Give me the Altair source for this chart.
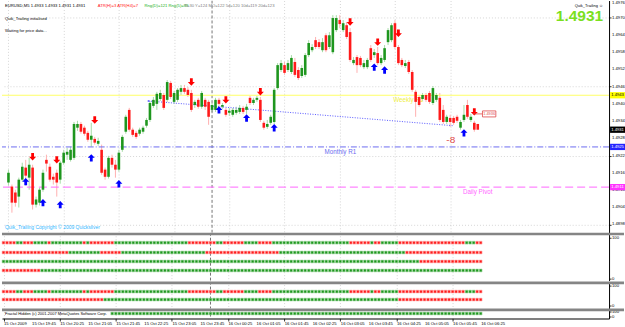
import altair as alt
import pandas as pd

# ---------------- data ----------------
BARS = list(range(137))  # M5 bars, 15 Oct 19:05 .. 16 Oct 06:25

OPEN = [1.49126, 1.49112, 1.49091, 1.49077, 1.49136, 1.49178, 1.49143, 1.49178, 1.49049, 1.49056,
        1.49101, 1.49205, 1.49181, 1.49146, 1.49160, 1.49136, 1.49195, 1.49223, 1.49205, 1.49212,
        1.49317, 1.49330, 1.49317, 1.49299, 1.49275, 1.49278, 1.49261, 1.49240, 1.49171, 1.49146,
        1.49212, 1.49188, 1.49171, 1.49240, 1.49303, 1.49379, 1.49310, 1.49299, 1.49296, 1.49303,
        1.49324, 1.49344, 1.49393, 1.49400, 1.49417, 1.49431, 1.49414, 1.49473, 1.49407, 1.49414,
        1.49442, 1.49455, 1.49449, 1.49438, 1.49396, 1.49414, 1.49390, 1.49414, 1.49407, 1.49379,
        1.49379, 1.49414, 1.49390, 1.49379, 1.49369, 1.49362, 1.49369, 1.49372, 1.49386, 1.49379,
        1.49421, 1.49403, 1.49414, 1.49414, 1.49334, 1.49320, 1.49334, 1.49337, 1.49455, 1.49518,
        1.49535, 1.49518, 1.49511, 1.49546, 1.49518, 1.49497, 1.49501, 1.49570, 1.49587, 1.49622,
        1.49615, 1.49587, 1.49639, 1.49598, 1.49580, 1.49657, 1.49692, 1.49657, 1.49674, 1.49650,
        1.49542, 1.49563, 1.49560, 1.49528, 1.49528, 1.49594, 1.49570, 1.49577, 1.49542, 1.49553,
        1.49615, 1.49622, 1.49681, 1.49598, 1.49553, 1.49532, 1.49546, 1.49511, 1.49442, 1.49424,
        1.49417, 1.49431, 1.49438, 1.49403, 1.49414, 1.49421, 1.49379, 1.49337, 1.49351, 1.49351,
        1.49355, 1.49317, 1.49344, 1.49396, 1.49344, 1.49334, 1.49330]
HIGH = [1.49171, 1.49119, 1.49101, 1.49143, 1.49195, 1.49205, 1.49212, 1.49188, 1.49077, 1.49108,
        1.49171, 1.49223, 1.49192, 1.49157, 1.49171, 1.49202, 1.49240, 1.49247, 1.49251, 1.49337,
        1.49341, 1.49337, 1.49324, 1.49306, 1.49334, 1.49285, 1.49282, 1.49258, 1.49178, 1.49219,
        1.49223, 1.49205, 1.49240, 1.49292, 1.49362, 1.49386, 1.49317, 1.49306, 1.49317, 1.49324,
        1.49351, 1.49410, 1.49424, 1.49442, 1.49449, 1.49438, 1.49483, 1.49480, 1.49445, 1.49455,
        1.49466, 1.49466, 1.49459, 1.49449, 1.49414, 1.49421, 1.49445, 1.49421, 1.49414, 1.49403,
        1.49421, 1.49421, 1.49403, 1.49386, 1.49386, 1.49386, 1.49390, 1.49396, 1.49393, 1.49400,
        1.49428, 1.49421, 1.49428, 1.49424, 1.49341, 1.49344, 1.49362, 1.49455, 1.49542, 1.49553,
        1.49546, 1.49553, 1.49570, 1.49560, 1.49528, 1.49535, 1.49577, 1.49622, 1.49608, 1.49633,
        1.49626, 1.49629, 1.49646, 1.49650, 1.49709, 1.49709, 1.49709, 1.49692, 1.49685, 1.49664,
        1.49563, 1.49570, 1.49567, 1.49553, 1.49560, 1.49605, 1.49591, 1.49598, 1.49570, 1.49605,
        1.49664, 1.49681, 1.49692, 1.49605, 1.49560, 1.49553, 1.49553, 1.49518, 1.49449, 1.49431,
        1.49438, 1.49438, 1.49445, 1.49462, 1.49438, 1.49438, 1.49396, 1.49362, 1.49362, 1.49358,
        1.49362, 1.49344, 1.49396, 1.49414, 1.49365, 1.49341, 1.49330]
LOW = [1.49115, 1.49021, 1.49042, 1.49039, 1.49129, 1.49115, 1.49101, 1.49032, 1.49039, 1.49046,
       1.49094, 1.49164, 1.49129, 1.49119, 1.49077, 1.49122, 1.49188, 1.49205, 1.49199, 1.49205,
       1.49306, 1.49296, 1.49289, 1.49268, 1.49251, 1.49258, 1.49254, 1.49153, 1.49136, 1.49140,
       1.49178, 1.49143, 1.49164, 1.49233, 1.49296, 1.49303, 1.49285, 1.49278, 1.49289, 1.49296,
       1.49317, 1.49337, 1.49386, 1.49379, 1.49410, 1.49379, 1.49407, 1.49417, 1.49400, 1.49407,
       1.49431, 1.49435, 1.49424, 1.49372, 1.49386, 1.49383, 1.49383, 1.49379, 1.49327, 1.49372,
       1.49372, 1.49393, 1.49383, 1.49355, 1.49358, 1.49355, 1.49362, 1.49365, 1.49365, 1.49365,
       1.49396, 1.49396, 1.49407, 1.49337, 1.49310, 1.49313, 1.49327, 1.49330, 1.49449, 1.49511,
       1.49501, 1.49511, 1.49504, 1.49494, 1.49483, 1.49490, 1.49494, 1.49563, 1.49580, 1.49591,
       1.49591, 1.49580, 1.49580, 1.49591, 1.49573, 1.49650, 1.49664, 1.49650, 1.49626, 1.49546,
       1.49535, 1.49508, 1.49528, 1.49521, 1.49521, 1.49546, 1.49560, 1.49535, 1.49535, 1.49546,
       1.49605, 1.49615, 1.49591, 1.49535, 1.49528, 1.49525, 1.49504, 1.49442, 1.49355, 1.49390,
       1.49410, 1.49407, 1.49400, 1.49396, 1.49407, 1.49337, 1.49330, 1.49330, 1.49320, 1.49327,
       1.49334, 1.49310, 1.49337, 1.49348, 1.49337, 1.49303, 1.49310]
CLOSE = [1.49160, 1.49056, 1.49056, 1.49136, 1.49181, 1.49150, 1.49188, 1.49049, 1.49067, 1.49101,
         1.49160, 1.49192, 1.49136, 1.49136, 1.49126, 1.49195, 1.49230, 1.49233, 1.49240, 1.49330,
         1.49330, 1.49303, 1.49296, 1.49275, 1.49289, 1.49265, 1.49271, 1.49160, 1.49146, 1.49212,
         1.49188, 1.49171, 1.49230, 1.49285, 1.49355, 1.49310, 1.49292, 1.49285, 1.49310, 1.49317,
         1.49344, 1.49403, 1.49414, 1.49435, 1.49438, 1.49386, 1.49476, 1.49424, 1.49438, 1.49449,
         1.49455, 1.49442, 1.49431, 1.49379, 1.49407, 1.49390, 1.49438, 1.49390, 1.49355, 1.49396,
         1.49414, 1.49400, 1.49396, 1.49362, 1.49376, 1.49379, 1.49379, 1.49386, 1.49372, 1.49390,
         1.49403, 1.49414, 1.49421, 1.49344, 1.49317, 1.49330, 1.49355, 1.49449, 1.49535, 1.49542,
         1.49508, 1.49542, 1.49560, 1.49501, 1.49490, 1.49525, 1.49570, 1.49612, 1.49598, 1.49598,
         1.49598, 1.49615, 1.49587, 1.49639, 1.49699, 1.49699, 1.49678, 1.49681, 1.49633, 1.49553,
         1.49553, 1.49535, 1.49535, 1.49542, 1.49553, 1.49553, 1.49580, 1.49542, 1.49560, 1.49594,
         1.49657, 1.49674, 1.49598, 1.49542, 1.49535, 1.49542, 1.49511, 1.49449, 1.49407, 1.49396,
         1.49431, 1.49414, 1.49407, 1.49455, 1.49431, 1.49344, 1.49337, 1.49355, 1.49337, 1.49334,
         1.49341, 1.49337, 1.49362, 1.49355, 1.49355, 1.49310, 1.49310]

TICK_BARS = list(range(0, 137, 8))
TICK_LABELS = ["15 Oct 2009", "15 Oct 19:45", "15 Oct 20:25", "15 Oct 21:05", "15 Oct 21:45",
               "15 Oct 22:25", "15 Oct 23:05", "15 Oct 23:45", "16 Oct 00:25", "16 Oct 01:05",
               "16 Oct 01:45", "16 Oct 02:25", "16 Oct 03:05", "16 Oct 03:45", "16 Oct 04:25",
               "16 Oct 05:05", "16 Oct 05:45", "16 Oct 06:25"]
PRICE_TICKS = [1.4976, 1.4970, 1.4964, 1.4958, 1.4952, 1.4946, 1.4940, 1.4934, 1.4928,
               1.4922, 1.4916, 1.4910, 1.4904, 1.4898]
DAY_SEPARATOR_BAR = [59]

LEVEL_NAMES = ["Weekly R1", "Monthly R1", "Daily Pivot"]
LEVEL_PRICES = [1.4943, 1.4925, 1.4911]
LEVEL_LABEL_BARS = [111.5, 91.6, 131.7]

SELL_BARS = [7, 14, 25, 53, 63, 73, 99, 107, 113, 135]
SELL_PRICES = [1.49216, 1.49205, 1.49344, 1.49476, 1.49414, 1.49442, 1.49685, 1.49615, 1.49646, 1.49372]
BUY_BARS = [5, 10, 15, 24, 32, 61, 69, 77, 106, 109, 132]
BUY_PRICES = [1.49129, 1.49056, 1.49049, 1.49212, 1.49122, 1.49379, 1.49351, 1.49317, 1.49528, 1.49518, 1.49299]

TREND_BARS = [40.6, 128.8]
TREND_PRICES = [1.49410, 1.49324]

RIGHT_BOX_PRICES = [1.4943, 1.4931, 1.4925, 1.4911]
RIGHT_BOX_TEXT = ["1.4943", "1.4931", "1.4925", "1.4911"]

# signal rows (run lengths: code, number of bars)
ROW1 = [("r", 4), ("g", 2), ("r", 3), ("g", 4), ("r", 1), ("g", 9), ("r", 1), ("g", 1), ("r", 7),
        ("g", 21), ("r", 8), ("g", 2), ("r", 6), ("g", 4), ("r", 4), ("g", 22), ("r", 6), ("g", 1),
        ("r", 2), ("g", 5), ("r", 19), ("g", 3), ("r", 2)]
ROW2 = [("r", 17), ("R", 2), ("g", 7), ("G", 2), ("r", 4), ("R", 2), ("g", 22), ("G", 2), ("r", 19),
        ("R", 2), ("g", 22), ("G", 2), ("g", 7), ("G", 2), ("g", 1), ("G", 2), ("r", 22)]
ROW3 = [("g", 119), ("R", 11), ("r", 7)]
ROW4 = [("r", 11), ("G", 47), ("g", 79)]
SUB2_ROW1 = ROW1
SUB2_ROW2 = [("R", 4), ("r", 25), ("G", 5), ("g", 79), ("R", 5), ("r", 19)]
SUB3_ROW = [("-", 31), ("g", 106)]

# ---------------- styling ----------------
FONT = "Liberation Sans"
W = 609
H_MAIN = 233
XS = alt.Scale(domain=[-0.43, 172.6], nice=False, zero=False)
YS = alt.Scale(domain=[1.4976 - H_MAIN / 28800.0, 1.4976], nice=False, zero=False)
GRID = dict(grid=True, gridColor="#c4c4c4", gridDash=[1, 2], gridWidth=0.7)


def x_axis_plain():
    return alt.Axis(values=TICK_BARS, labels=False, ticks=False, domain=False, title=None, **GRID)


candles = pd.DataFrame(dict(bar=BARS, open=OPEN, high=HIGH, low=LOW, close=CLOSE))
candles["dir"] = ["up" if c >= o else "down" for o, c in zip(OPEN, CLOSE)]

y_axis = alt.Axis(orient="right", values=PRICE_TICKS, labels=False, tickColor="black", tickSize=2,
                  tickWidth=0.8, domainColor="black", domainWidth=1, title=None, **GRID)

wicks = alt.Chart(candles).mark_rule(strokeWidth=1).encode(
    x=alt.X("bar:Q", scale=XS, axis=x_axis_plain()),
    y=alt.Y("low:Q", scale=YS, axis=y_axis),
    y2="high:Q",
    stroke=alt.Stroke("dir:N", scale=alt.Scale(domain=["up", "down"], range=["#a6dca6", "#ffb0b0"]), legend=None),
)
bodies = alt.Chart(candles).mark_bar(size=2.6).encode(
    x="bar:Q", y="open:Q", y2="close:Q",
    fill=alt.Fill("dir:N", scale=alt.Scale(domain=["up", "down"], range=["#1e961e", "#ff1a1a"]), legend=None),
)

# price labels of the right scale
ptick = pd.DataFrame({"price": PRICE_TICKS, "t": ["%.4f" % p for p in PRICE_TICKS]})
ptick_top = alt.Chart(ptick.iloc[[0]]).mark_text(align="left", baseline="top", fontSize=4.2, font=FONT,
                                                 color="black").encode(x=alt.value(612), y="price:Q", text="t:N")
ptick_rest = alt.Chart(ptick.iloc[1:]).mark_text(align="left", baseline="middle", fontSize=4.2, font=FONT,
                                                 color="black").encode(x=alt.value(612), y="price:Q", text="t:N")

sep_df = pd.DataFrame({"bar": DAY_SEPARATOR_BAR})
sep_main = alt.Chart(sep_df).mark_rule(color="#505050", strokeWidth=0.8, strokeDash=[3, 2], clip=True).encode(x="bar:Q")

lev = pd.DataFrame({"name": LEVEL_NAMES, "price": LEVEL_PRICES, "bar": LEVEL_LABEL_BARS})
LEVEL_STYLE = {"Weekly R1": ("#ffff66", []), "Monthly R1": ("#6c6cf0", [6, 2, 1, 2]),
               "Daily Pivot": ("#ff66ff", [8, 4])}
level_lines = []
level_texts = []
for nm, (col, dash) in LEVEL_STYLE.items():
    d = lev[lev.name == nm]
    kw = dict(color=col, strokeWidth=1, clip=True)
    if dash:
        kw["strokeDash"] = dash
    level_lines.append(alt.Chart(d).mark_rule(**kw).encode(y="price:Q"))
    tcol = "#eeee44" if nm == "Weekly R1" else col
    level_texts.append(alt.Chart(d).mark_text(align="left", baseline="middle", dy=4.8, fontSize=6.3,
                                               font=FONT, color=tcol).encode(x="bar:Q", y="price:Q", text="name:N"))

trend = pd.DataFrame({"bar": TREND_BARS, "price": TREND_PRICES})
trend_line = alt.Chart(trend).mark_line(color="#4646ff", strokeWidth=0.9, strokeDash=[1, 1.5]).encode(
    x="bar:Q", y="price:Q")
trend_dot = alt.Chart(trend.iloc[[0]]).mark_point(filled=True, size=5, color="#4646ff").encode(
    x="bar:Q", y="price:Q")

DOWN_ARROW = "M-0.38,-1L0.38,-1L0.38,0L0.95,0L0,1L-0.95,0L-0.38,0Z"
UP_ARROW = "M-0.38,1L0.38,1L0.38,0L0.95,0L0,-1L-0.95,0L-0.38,0Z"
sells = alt.Chart(pd.DataFrame({"bar": SELL_BARS, "price": SELL_PRICES})).mark_point(
    shape=DOWN_ARROW, filled=True, size=55, color="#ff0000", opacity=1).encode(x="bar:Q", y="price:Q")
buys = alt.Chart(pd.DataFrame({"bar": BUY_BARS, "price": BUY_PRICES})).mark_point(
    shape=UP_ARROW, filled=True, size=55, color="#0000ff", opacity=1).encode(x="bar:Q", y="price:Q")

minus8 = alt.Chart(pd.DataFrame({"bar": [126.9], "price": [1.49275], "t": ["-8"]})).mark_text(
    align="left", baseline="middle", fontSize=10, font=FONT, color="#e04848").encode(x="bar:Q", y="price:Q", text="t:N")

tag = pd.DataFrame({"bar": [139.3], "price": [1.49365], "t": ["1.4936"]})
tag_line = alt.Chart(pd.DataFrame({"bar": [134.6], "bar2": [137.4], "price": [1.49365]})).mark_rule(
    color="#e04848", strokeWidth=0.8).encode(x="bar:Q", x2="bar2:Q", y="price:Q")
tag_box = alt.Chart(tag).mark_point(shape="M-1,-0.45L1,-0.45L1,0.45L-1,0.45Z", size=180, filled=True,
                                    fill="white", stroke="#e04848", strokeWidth=0.8, opacity=1).encode(
    x="bar:Q", y="price:Q")
tag_text = alt.Chart(tag).mark_text(fontSize=3.9, font=FONT, color="#e04848").encode(x="bar:Q", y="price:Q", text="t:N")

box_df = pd.DataFrame({"price": RIGHT_BOX_PRICES, "t": RIGHT_BOX_TEXT,
                       "fill": ["#ffff00", "#000000", "#2424ff", "#ff33ff"],
                       "tc": ["#000000", "#ffffff", "#ffffff", "#ffffff"]})
boxes = alt.Chart(box_df).mark_point(shape="M-1,-0.42L1,-0.42L1,0.42L-1,0.42Z", size=225, filled=True,
                                     opacity=1, strokeWidth=0).encode(
    x=alt.value(617.5), y="price:Q", fill=alt.Fill("fill:N", scale=None))
box_text = alt.Chart(box_df).mark_text(fontSize=4.2, font=FONT).encode(
    x=alt.value(617.5), y="price:Q", text="t:N", color=alt.Color("tc:N", scale=None))

# fixed screen texts of the terminal window
screen = pd.DataFrame([
    ("EURUSD,M5  1.4933 1.4933 1.4931 1.4931", 3, 5, "#000000", 4.2, "normal", "left"),
    ("ATR(H)=3  ATR(H4)=7", 96, 5, "#ff2020", 4.2, "normal", "left"),
    ("Rng(D)=121  Rng(5)=88", 143, 5, "#22b022", 4.2, "normal", "left"),
    ("T=30  Y=124  MO=122  5d=120  10d=119  20d=123", 183, 5, "#808080", 4.2, "normal", "left"),
    ("Quik_Trailing  initialised", 3, 19, "#000000", 4.1, "normal", "left"),
    ("Waiting for price data...", 3, 31, "#000000", 4.1, "normal", "left"),
    ("Quik_Trailing  Copyright \u00a9 2009  Quicksilver", 3, 227, "#33b8ff", 5.0, "normal", "left"),
    ("Quik_Trailing \u263a", 603, 5, "#000000", 4.0, "normal", "right"),
    ("1.4931", 603, 16, "#7ae01e", 15.5, "bold", "right"),
], columns=["t", "px", "py", "c", "s", "w", "a"])
screen_layers = []
for _, r in screen.iterrows():
    screen_layers.append(alt.Chart(pd.DataFrame([r])).mark_text(
        align=r.a, baseline="middle", fontSize=float(r.s), fontWeight=r.w, font=FONT, color=r.c).encode(
        x=alt.X("px:Q", scale=None), y=alt.Y("py:Q", scale=None), text="t:N"))

main = alt.layer(
    wicks, sep_main, *level_lines, *level_texts, trend_line, trend_dot, bodies,
    sells, buys, minus8, tag_line, tag_box, tag_text, ptick_top, ptick_rest, boxes, box_text, *screen_layers
).properties(width=W, height=H_MAIN)


# ---------------- indicator sub windows ----------------
def expand(rows, levels):
    recs = []
    for runs, lvl in zip(rows, levels):
        b = 0
        for code, n in runs:
            for _ in range(n):
                if code != "-":
                    recs.append({"bar": b, "lvl": lvl, "code": code})
                b += 1
    return pd.DataFrame(recs)


FILL_SCALE = alt.Scale(domain=["g", "r", "G", "R"], range=["#1f8f1f", "#ff4022", "#ffffff", "#ffffff"])
STROKE_SCALE = alt.Scale(domain=["g", "r", "G", "R"], range=["#167816", "#e83010", "#86c886", "#ff9a8a"])


def sub_panel(rows, levels, ydom, height, bottom=False, extra=None):
    df = expand(rows, levels)
    ys = alt.Scale(domain=ydom, nice=False, zero=False)
    if bottom:
        xa = alt.Axis(values=TICK_BARS, labels=False, tickSize=2.5, tickColor="black", tickWidth=0.8,
                      domain=True, domainColor="black", domainWidth=1, title=None, **GRID)
    else:
        xa = x_axis_plain()
    ya = alt.Axis(orient="right", values=[0, 100], format="d", labelFontSize=4.2, labelFont=FONT,
                  labelColor="black", tickSize=2, tickColor="black", tickWidth=0.8, labelPadding=0.5,
                  domainColor="black", domainWidth=1, title=None, grid=False, labelOverlap=False)
    squares = alt.Chart(df).mark_point(shape="square", filled=True, size=8, strokeWidth=0.6, opacity=1).encode(
        x=alt.X("bar:Q", scale=XS, axis=xa),
        y=alt.Y("lvl:Q", scale=ys, axis=ya),
        fill=alt.Fill("code:N", scale=FILL_SCALE, legend=None),
        stroke=alt.Stroke("code:N", scale=STROKE_SCALE, legend=None),
    )
    sep = alt.Chart(sep_df).mark_rule(color="#505050", strokeWidth=0.8, strokeDash=[3, 2], clip=True).encode(x="bar:Q")
    divider = alt.Chart(pd.DataFrame({"k": [0]})).mark_rect(color="#858585").encode(
        x=alt.value(0), x2=alt.value(624), y=alt.value(0), y2=alt.value(2.6))
    layers = [sep, squares, divider]
    if extra:
        layers.extend(extra)
    return alt.layer(*layers).properties(width=W, height=height)


sub1 = sub_panel([ROW1, ROW2, ROW3, ROW4], [88, 64, 42, 20], [-4.9, 112.2], 48)
sub2 = sub_panel([SUB2_ROW1, SUB2_ROW2], [70, 30], [-15, 120], 27)
fractal_name = alt.Chart(pd.DataFrame({"t": ["Fractal Hidden  (c) 2001-2007 MetaQuotes Software Corp."]})).mark_text(
    align="left", baseline="middle", fontSize=4.0, font=FONT, color="black").encode(
    x=alt.value(3), y=alt.value(5.4), text="t:N")
time_labels = alt.Chart(pd.DataFrame({"bar": TICK_BARS, "t": TICK_LABELS})).mark_text(
    align="left", baseline="top", fontSize=4.2, font=FONT, color="black", dx=0.5).encode(
    x="bar:Q", y=alt.value(13.2), text="t:N")
sub3 = sub_panel([SUB3_ROW], [60], [-40, 160], 10, bottom=True, extra=[fractal_name, time_labels])

chart = alt.vconcat(main, sub1, sub2, sub3, spacing=0).properties(
    padding={"left": 0, "top": 0, "right": 0, "bottom": 0}, background="white"
).configure_view(stroke=None).configure_concat(spacing=0)

chart.save("out.html", embed_options={"renderer": "svg", "actions": False})
